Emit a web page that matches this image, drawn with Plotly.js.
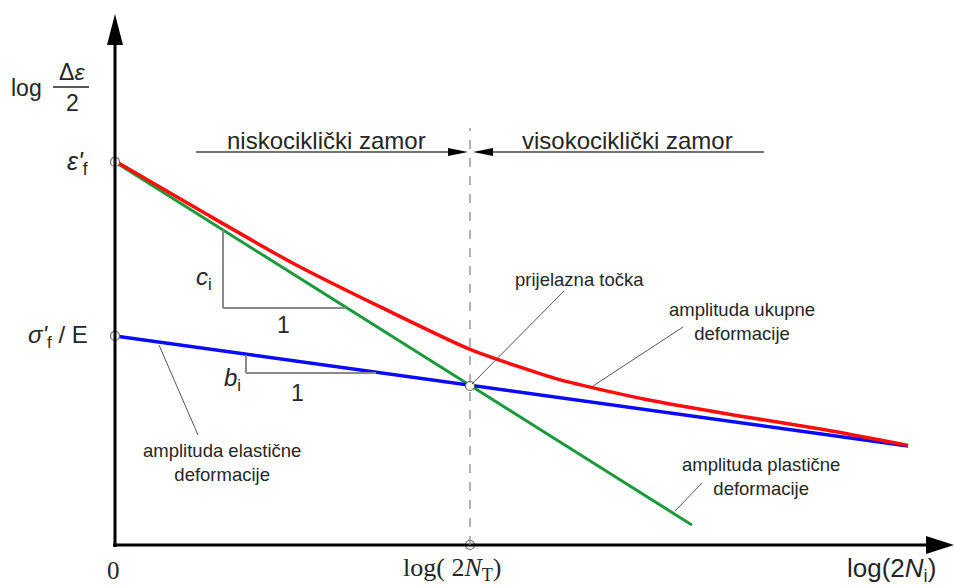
<!DOCTYPE html>
<html><head><meta charset="utf-8">
<script src="https://cdn.plot.ly/plotly-3.0.1.min.js"></script>
<style>html,body{margin:0;padding:0;background:#fff}</style>
</head><body><div id="chart" style="width:955px;height:585px"></div>
<script>
// data (x: log(2N) in units of log(2N_T); y: log strain amplitude, arbitrary units)
const elasticX = [0, 2.234];
const elasticY = [1.742, 0.825];
const plasticX = [0, 1.625];
const plasticY = [3.192, 0.167];
const totalX = [0, 0.25, 0.5, 0.75, 1, 1.25, 1.5, 1.75, 2, 2.234];
const totalY = [3.20, 2.77, 2.35, 1.98, 1.63, 1.38, 1.21, 1.08, 0.96, 0.83];
const keyX = [0, 0, 1, 1];
const keyY = [3.192, 1.742, 1.325, 0];
const xTickLabels = ['0', 'log( 2<i>N</i><sub>T</sub>)', 'log(2<i>N</i><sub>i</sub>)'];
const regionLabels = ['niskociklički zamor', 'visokociklički zamor'];

// pixel -> paper helpers for decorations
const L = 115, T = 14, W = 835, H = 531;
const PX = p => (p - L) / W;
const PY = p => (T + H - p) / H;

const sans = 'Liberation Sans, Arial, sans-serif';
const serif = 'Liberation Serif, Times New Roman, serif';
const txt = '#262626';

const traces = [
  {x: plasticX, y: plasticY, mode: 'lines', line: {color: '#1a9a3a', width: 3}, cliponaxis: false, hoverinfo: 'skip'},
  {x: elasticX, y: elasticY, mode: 'lines', line: {color: '#0a0aff', width: 3.5}, cliponaxis: false, hoverinfo: 'skip'},
  {x: totalX, y: totalY, mode: 'lines', line: {color: '#ff0d0d', width: 3.5, shape: 'spline', smoothing: 0.6}, cliponaxis: false, hoverinfo: 'skip'},
  {x: keyX, y: keyY, mode: 'markers', marker: {size: 9, color: '#fff', line: {color: '#666', width: 1.2}}, cliponaxis: false, hoverinfo: 'skip'}
];

function seg(x0, y0, x1, y1, color, width, dash) {
  return {type: 'line', xref: 'paper', yref: 'paper', x0: PX(x0), y0: PY(y0), x1: PX(x1), y1: PY(y1),
          line: {color: color, width: width, dash: dash || 'solid'}, layer: 'above'};
}
function tri(ax, ay, path) {
  return {type: 'path', xref: 'paper', yref: 'paper', xsizemode: 'pixel', ysizemode: 'pixel',
          xanchor: PX(ax), yanchor: PY(ay), path: path, fillcolor: '#000', line: {width: 0}, layer: 'above'};
}

const shapes = [
  // axes
  seg(115, 547, 115, 40, '#000', 3),
  seg(113, 545, 930, 545, '#000', 3),
  tri(115, 14, 'M0,0 L-8,-31 L8,-31 Z'),
  tri(954, 545, 'M0,0 L-28,-9 L-28,9 Z'),
  // transition dashed line
  seg(470, 545, 470, 128, '#8a8a8a', 1.3, 'dash'),
  // region arrows
  seg(196, 152, 452, 152, '#444', 1.3),
  seg(488, 152, 764, 152, '#444', 1.3),
  tri(468, 152, 'M0,0 L-20,-4 L-20,4 Z'),
  tri(473, 152, 'M0,0 L20,-4 L20,4 Z'),
  // slope triangles
  seg(223, 230, 223, 308, '#8a8a8a', 2),
  seg(223, 308, 346, 308, '#8a8a8a', 2),
  seg(246, 355, 246, 373, '#8a8a8a', 2),
  seg(246, 373, 376, 373, '#8a8a8a', 2),
  // leader lines
  seg(159, 345, 198, 435, '#555', 1),
  seg(472, 384, 564, 291, '#555', 1),
  seg(593, 386, 683, 327, '#555', 1),
  seg(675, 511, 702, 483, '#555', 1),
  // fraction bar
  seg(53, 87, 89, 87, '#222', 1.5)
];

function lab(px, py, text, size, font, xanchor) {
  return {xref: 'paper', yref: 'paper', x: PX(px), y: PY(py), text: text, showarrow: false,
          xanchor: xanchor || 'center', yanchor: 'middle', font: {family: font || sans, size: size, color: txt}};
}

const annotations = [
  lab(26, 88, 'log', 23),
  lab(72, 72, 'Δ<i>ε</i>', 23),
  lab(72, 103, '2', 23),
  lab(90, 163, "<i>ε'</i><sub>f</sub>", 25, sans, 'right'),
  lab(90, 336, "<i>σ'</i><sub>f</sub> / E", 24, sans, 'right'),
  lab(326, 140, regionLabels[0], 24),
  lab(627, 140, regionLabels[1], 24),
  lab(204, 278, '<i>c</i><sub>i</sub>', 24),
  lab(283, 325, '1', 23),
  lab(232, 379, '<i>b</i><sub>i</sub>', 24),
  lab(297, 393, '1', 23),
  lab(579, 279, 'prijelazna točka', 18.5),
  lab(742, 321, 'amplituda ukupne<br>deformacije', 18.5),
  lab(222, 462, 'amplituda elastične<br>deformacije', 18.5),
  lab(761, 476, 'amplituda plastične<br>deformacije', 18.5),
  lab(113, 570, xTickLabels[0], 25, serif),
  lab(452, 569, xTickLabels[1], 26, serif),
  lab(891, 569, xTickLabels[2], 26, sans)
];

const layout = {
  width: 955, height: 585,
  margin: {l: L, r: 955 - L - W, t: T, b: 585 - T - H},
  paper_bgcolor: '#fff', plot_bgcolor: '#fff',
  showlegend: false,
  xaxis: {range: [0, W / 355], visible: false, fixedrange: true},
  yaxis: {range: [0, H / 120], visible: false, fixedrange: true},
  shapes: shapes,
  annotations: annotations
};

Plotly.newPlot('chart', traces, layout, {staticPlot: true, displayModeBar: false});
</script></body></html>
